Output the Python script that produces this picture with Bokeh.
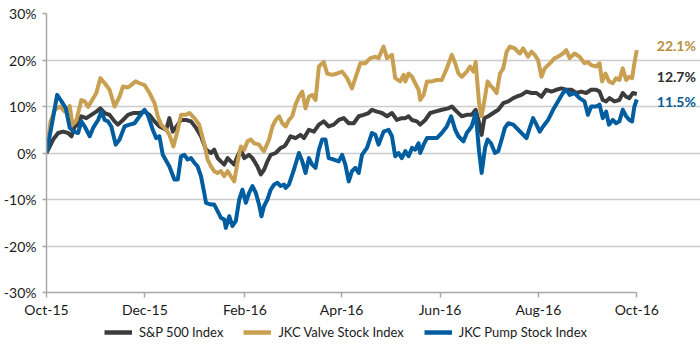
from datetime import datetime, timedelta
from bokeh.plotting import figure
from bokeh.layouts import column
from bokeh.models import (Range1d, FixedTicker, PrintfTickFormatter, DatetimeTickFormatter,
                          Legend, LegendItem, Label)
from bokeh.embed import file_html
from bokeh.resources import INLINE

BASE = datetime(2015, 10, 1)

# day offsets from 2015-10-01 and cumulative returns (%)
sp_days = [0, 4.1, 7.2, 10.3, 13.4, 15.5, 17.5, 19.6, 21.6, 24.7, 27.8, 30.9, 33.4, 36.1, 39.1, 42.2,
           44.3, 47.4, 50.5, 53.6, 57.7, 60.8, 63.9, 67.0, 70.0, 74.2, 76.2, 78.3, 81.4, 83.4, 86.5,
           89.6, 92.7, 95.8, 98.9, 102.0, 104.0, 106.1, 108.1, 110.2, 112.3, 114.3, 116.4, 118.4,
           120.5, 122.6, 125.6, 127.7, 130.8, 132.9, 134.9, 137.0, 139.0, 142.1, 145.2, 147.3,
           148.3, 151.3, 154.4, 157.5, 159.6, 162.7, 165.8, 168.9, 171.9, 175.0, 178.1, 181.2,
           184.3, 187.4, 190.5, 193.6, 196.6, 199.7, 201.8, 204.9, 208.0, 211.1, 214.2, 217.2,
           220.3, 222.5, 224.5, 226.6, 229.7, 231.7, 234.8, 237.9, 241.0, 245.1, 249.2, 251.3,
           254.4, 257.5, 260.6, 263.6, 266.1, 267.8, 269.8, 271.5, 273.9, 277.0, 280.1, 283.2,
           286.3, 289.4, 291.4, 294.5, 297.6, 300.7, 303.8, 306.9, 309.9, 313.0, 316.1, 319.2,
           322.3, 325.4, 328.5, 331.6, 334.6, 337.7, 340.8, 342.9, 344.9, 347.0, 349.1, 352.1,
           355.2, 357.3, 359.4, 361.4, 363.5, 366.0]
sp_vals = [0, 2.9, 4.3, 4.6, 4.3, 3.6, 5.7, 6.1, 7.9, 7.5, 8.2, 8.9, 9.6, 8.6, 8.2, 6.8,
           6.1, 7.1, 8.2, 8.6, 8.6, 8.9, 8.2, 6.8, 5.7, 5.0, 7.5, 4.6, 6.1, 7.1, 7.1,
           6.8, 5.4, 3.6, 0.7, 0.0, 0.7, -1.1, -1.8, -2.5, -1.1, -1.8, -2.5, -0.7,
           0.7, -1.1, -0.4, -1.1, -2.9, -4.6, -3.6, -1.8, -0.4, 0.0, 1.1, 1.4,
           1.8, 3.6, 3.2, 3.9, 3.2, 5.0, 4.6, 6.1, 6.8, 5.7, 6.1, 7.1,
           7.5, 6.4, 6.4, 7.9, 8.2, 8.6, 9.3, 8.9, 8.6, 7.9, 8.6, 7.1,
           7.5, 7.5, 7.9, 7.1, 6.8, 6.1, 7.1, 8.6, 8.9, 9.3, 9.6, 10.0,
           8.9, 7.9, 8.2, 8.2, 9.3, 7.1, 3.9, 7.5, 7.9, 8.6, 9.3, 10.7,
           11.1, 11.8, 12.1, 12.5, 13.2, 12.9, 12.9, 12.1, 13.6, 13.2, 13.6, 13.9,
           13.6, 13.6, 12.9, 13.2, 12.9, 13.6, 13.6, 13.2, 11.4, 11.1, 11.8, 11.1,
           11.4, 12.9, 12.1, 11.8, 12.9, 12.7]

valve_days = [0, 2.5, 5.2, 8.3, 11.3, 13.4, 14.4, 16.1, 18.6, 21.6, 23.7, 25.8, 27.8, 30.9, 33.4,
              36.1, 39.1, 42.2, 45.3, 47.4, 50.5, 52.5, 55.2, 57.7, 60.8, 63.9, 67.0, 69.0, 71.1,
              74.2, 76.2, 78.7, 81.4, 83.4, 86.5, 88.6, 91.7, 94.7, 97.8, 99.9, 102.0, 104.0,
              106.1, 108.1, 110.2, 112.3, 114.3, 116.4, 118.4, 120.5, 122.6, 124.6, 126.7,
              128.7, 131.8, 133.9, 134.9, 138.0, 140.1, 142.1, 144.2, 146.2, 148.3, 150.3,
              152.4, 154.4, 156.5, 158.6, 160.6, 162.7, 164.7, 166.8, 168.9, 171.9, 174.0,
              177.1, 180.2, 183.3, 186.4, 189.4, 191.5, 194.6, 197.7, 200.8, 203.9, 205.9,
              209.0, 211.1, 214.2, 216.2, 219.3, 221.4, 222.5, 224.5, 226.6, 228.6, 230.7,
              231.7, 233.8, 235.9, 238.9, 242.0, 245.1, 248.2, 251.3, 253.4, 255.4, 257.5,
              260.6, 262.6, 264.7, 266.1, 268.2, 269.8, 271.9, 273.5, 275.0, 277.0, 279.1,
              281.2, 283.2, 285.3, 287.3, 290.4, 291.4, 293.5, 295.5, 298.6, 300.7, 302.7,
              304.8, 306.9, 308.9, 311.0, 313.0, 315.1, 317.1, 320.2, 322.3, 324.4, 327.4,
              330.5, 333.6, 335.7, 337.7, 340.8, 342.9, 344.5, 346.6, 348.7, 351.1, 353.2,
              355.2, 357.3, 359.4, 361.4, 363.1, 364.5, 366.0]
valve_vals = [0, 6.8, 9.3, 10.0, 8.9, 9.3, 10.1, 6.1, 7.1, 11.4, 11.1, 9.9, 11.1, 12.9, 16.1,
              15.0, 13.6, 10.0, 12.1, 14.3, 14.1, 14.6, 15.4, 15.0, 14.6, 12.9, 10.7, 7.9, 6.1,
              5.0, 3.9, 1.4, 5.0, 8.2, 8.2, 8.6, 7.5, 6.1, 2.0, -1.4, -2.9, -3.9,
              -4.3, -3.9, -5.0, -3.9, -5.0, -6.1, -2.1, 1.4, 0.7, 2.5, 2.9,
              2.1, 1.8, 0.7, 0.4, 2.9, 5.7, 7.1, 7.9, 6.4, 5.7, 7.1,
              7.9, 10.4, 12.1, 13.2, 9.6, 12.1, 12.5, 11.4, 18.6, 19.6, 17.1,
              16.8, 17.1, 17.5, 16.1, 13.9, 16.1, 19.3, 19.3, 20.4, 20.7, 20.4,
              22.9, 20.4, 21.1, 16.1, 15.4, 16.8, 15.4, 17.1, 16.4, 15.0, 13.6,
              11.4, 12.5, 15.4, 15.4, 15.7, 15.7, 18.2, 21.1, 19.3, 17.1, 16.4,
              17.5, 18.6, 17.5, 19.6, 10.7, 7.9, 12.1, 15.4, 14.6, 13.9, 12.9,
              17.1, 18.2, 21.8, 22.9, 22.5, 22.1, 21.4, 22.5, 20.7, 21.8, 21.1,
              20.0, 16.4, 18.2, 18.9, 19.6, 20.4, 20.7, 21.4, 22.1, 20.4, 21.4,
              20.7, 19.3, 19.6, 18.9, 18.6, 19.3, 15.4, 17.1, 15.4, 15.0, 16.1,
              15.7, 18.2, 15.7, 16.4, 16.1, 19.3, 22.1]

pump_days = [0, 3.1, 6.6, 9.3, 12.0, 14.4, 16.9, 19.6, 21.6, 23.7, 26.8, 28.9, 32.0, 34.0, 36.1,
             38.1, 40.2, 42.9, 45.3, 48.4, 51.5, 54.6, 57.7, 60.8, 62.8, 65.9, 68.0, 70.0, 72.1,
             76.2, 79.3, 81.4, 83.4, 85.5, 87.5, 89.6, 91.7, 93.7, 95.8, 97.8, 98.9, 102.0,
             104.0, 106.1, 108.1, 110.2, 111.2, 113.3, 115.3, 117.4, 119.5, 121.5, 123.6,
             125.6, 127.7, 129.8, 131.8, 133.3, 134.9, 137.0, 139.0, 141.1, 143.1, 145.2,
             147.3, 148.3, 150.3, 153.4, 156.5, 158.6, 160.6, 162.7, 164.7, 166.8, 168.9,
             170.9, 173.0, 175.0, 178.1, 181.2, 183.3, 185.3, 187.4, 189.4, 191.5, 193.6,
             195.6, 198.7, 201.8, 203.9, 205.9, 209.0, 212.1, 214.2, 216.2, 218.3, 220.3,
             222.5, 224.5, 226.6, 228.6, 230.7, 231.7, 233.8, 235.9, 238.9, 242.0, 245.1,
             248.2, 250.9, 253.4, 255.4, 258.5, 260.6, 263.6, 266.1, 268.2, 269.8, 271.9,
             273.5, 275.6, 278.1, 280.1, 282.2, 284.2, 286.3, 289.4, 292.5, 294.5, 297.6,
             299.6, 301.7, 303.8, 305.8, 307.9, 311.0, 314.1, 317.1, 320.2, 322.3, 324.4,
             327.4, 330.5, 333.6, 335.7, 337.7, 340.8, 342.9, 344.9, 347.0, 348.7, 351.1,
             353.2, 355.2, 357.3, 359.4, 361.4, 363.1, 364.5, 366.0]
pump_vals = [0, 5.7, 12.5, 11.1, 9.6, 5.4, 4.6, 4.3, 6.8, 5.7, 3.6, 5.4, 7.1, 8.9, 7.1,
             6.8, 5.7, 1.8, 2.9, 5.7, 6.1, 6.4, 7.9, 9.3, 8.2, 5.0, 3.2, 3.6, -0.4,
             -2.9, -5.7, -5.7, -0.7, -0.4, -1.4, -1.1, -2.1, -2.9, -5.0, -8.6, -10.7, -11.1,
             -11.1, -12.5, -13.9, -14.3, -16.1, -13.6, -15.7, -14.6, -10.0, -7.9, -10.7,
             -8.6, -7.1, -8.6, -11.1, -13.6, -11.4, -10.0, -7.9, -6.8, -6.4, -7.1,
             -6.8, -7.5, -6.8, -3.6, 0.0, -1.8, -4.3, -1.1, -2.5, -3.2, 0.7,
             2.9, 2.9, -1.1, -1.4, -1.8, -0.4, -2.5, -6.1, -3.9, -3.2, -4.3,
             -0.4, 1.1, 4.3, 3.9, 1.8, 4.6, 5.0, 3.6, -0.7, 0.0, -1.1,
             0.4, -0.7, 1.1, 0.7, 2.1, 0.0, 1.8, 3.2, 3.2, 3.2, 4.3,
             5.7, 7.9, 5.0, 3.6, 2.5, 4.3, 5.7, 8.6, 0.4, -4.3, 1.1,
             2.9, 2.1, 0.0, 0.4, 2.9, 5.4, 6.4, 6.1, 5.0, 4.3, 3.2,
             5.4, 7.5, 6.1, 4.6, 5.7, 7.1, 9.3, 11.1, 12.9, 13.6, 12.5,
             12.9, 11.8, 11.1, 8.2, 10.0, 10.0, 10.4, 7.5, 8.9, 6.1, 7.1,
             6.4, 6.8, 9.3, 7.9, 7.1, 6.8, 10.0, 11.5]

series_names = ["S&P 500 Index", "JKC Valve Stock Index", "JKC Pump Stock Index"]
series_colors = ["#3c3c3c", "#c9a052", "#005ea0"]
end_label_texts = ["12.7%", "22.1%", "11.5%"]
end_label_colors = ["#2e2e2e", "#b89038", "#0a5a96"]
end_label_shift = [17, 5, -2]  # screen px nudges
y_ticks = [-30, -20, -10, 0, 10, 20, 30]
x_tick_dates = ["2015-10-01", "2015-12-01", "2016-02-01", "2016-04-01",
                "2016-06-01", "2016-08-01", "2016-10-01"]

FONT = "Lato"
EPOCH = datetime(1970, 1, 1)

def ms(dt):
    return (dt - EPOCH).total_seconds() * 1000.0

def to_dates(days):
    return [BASE + timedelta(days=d) for d in days]

x_start = datetime(2015, 10, 1)
x_last = datetime(2016, 10, 1)
# extra room on the right of the last date for the end-value labels
x_end = x_last + timedelta(days=39.5)

p = figure(width=700, height=320, output_backend="svg", toolbar_location=None,
           x_axis_type="datetime",
           x_range=Range1d(x_start, x_end),
           y_range=Range1d(-30, 30),
           min_border_left=43, min_border_right=0, min_border_top=13, min_border_bottom=27)
p.outline_line_color = None
p.background_fill_color = "white"
p.border_fill_color = "white"

renderers = []
for days, vals, color in [(sp_days, sp_vals, series_colors[0]),
                          (valve_days, valve_vals, series_colors[1]),
                          (pump_days, pump_vals, series_colors[2])]:
    r = p.line(to_dates(days), vals, line_color=color, line_width=4, line_join="round")
    renderers.append(r)

# axes
p.yaxis.ticker = FixedTicker(ticks=y_ticks)
p.yaxis.formatter = PrintfTickFormatter(format="%d%%")
p.xaxis.ticker = FixedTicker(ticks=[ms(datetime.fromisoformat(d)) for d in x_tick_dates])
p.xaxis.formatter = DatetimeTickFormatter(months="%b-%y", days="%b-%y", years="%b-%y")
p.xaxis.bounds = (ms(x_start), ms(x_last))
for ax in (p.xaxis[0], p.yaxis[0]):
    ax.axis_line_color = "#a8a8a8"
    ax.axis_line_width = 1.5
    ax.major_tick_line_color = "#a8a8a8"
    ax.major_tick_line_width = 1.5
    ax.minor_tick_line_color = None
    ax.major_tick_in = 0
    ax.major_label_text_font = FONT
    ax.major_label_text_font_size = "14px"
    ax.major_label_text_color = "#1a1a1a"
p.yaxis.major_tick_out = 4
p.yaxis.major_label_standoff = 6
p.xaxis.major_tick_out = 5
p.xaxis.major_label_standoff = 3

p.xgrid.grid_line_color = None
p.ygrid.grid_line_color = "#cccccc"
p.ygrid.grid_line_width = 1.5
p.ygrid.bounds = (ms(x_start), ms(x_last))

# end labels
ends = [(sp_vals[-1], 0), (valve_vals[-1], 1), (pump_vals[-1], 2)]
end_date = BASE + timedelta(days=sp_days[-1])
for v, i in ends:
    p.add_layout(Label(x=end_date, y=v, x_offset=20, y_offset=end_label_shift[i],
                       text=end_label_texts[i], text_color=end_label_colors[i],
                       text_font=FONT, text_font_size="14px", text_font_style="bold",
                       text_baseline="middle"))

# legend strip below the chart (swatch lines kept outside its visible range)
lg = figure(width=700, height=41, output_backend="svg", toolbar_location=None,
            x_axis_location=None, y_axis_location=None,
            x_range=Range1d(0, 1), y_range=Range1d(0, 1),
            min_border_left=0, min_border_right=0, min_border_top=0, min_border_bottom=0)
lg.outline_line_color = None
lg.grid.visible = False
lg_renderers = [lg.line([0, 1], [5, 5], line_color=c, line_width=4.5) for c in series_colors]
legend = Legend(items=[LegendItem(label=series_names[i], renderers=[lg_renderers[i]]) for i in range(3)],
                orientation="horizontal", location=(58, 19),
                label_text_font=FONT, label_text_font_size="13px", label_text_color="#1a1a1a",
                glyph_width=28, label_standoff=7, spacing=20, border_line_color=None,
                padding=2, margin=0, background_fill_alpha=0)
lg.add_layout(legend)

open("out.html", "w").write(file_html(column(p, lg, spacing=0), INLINE))
